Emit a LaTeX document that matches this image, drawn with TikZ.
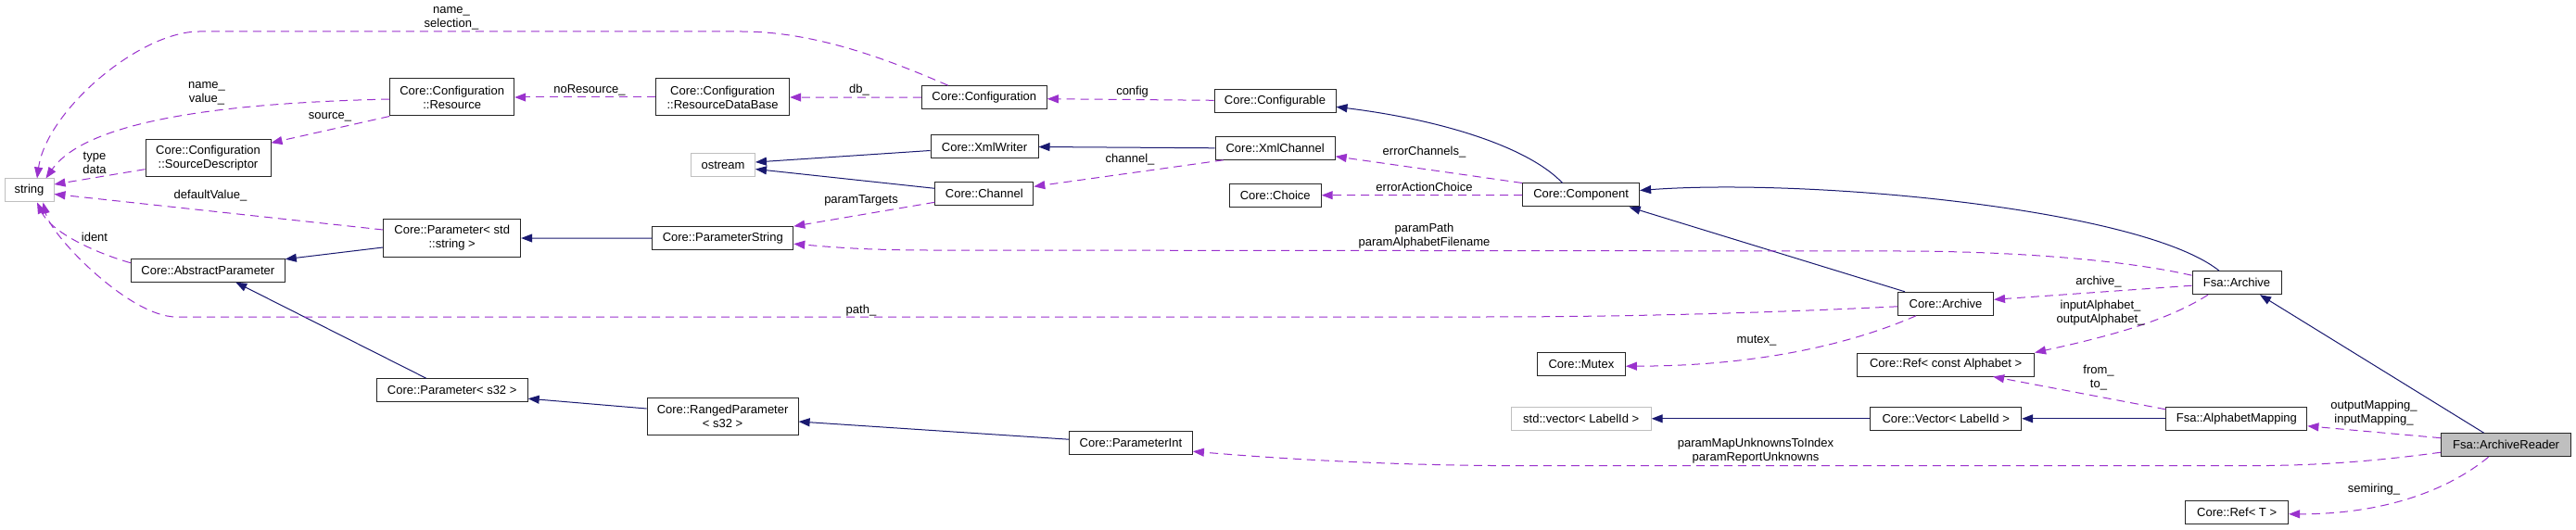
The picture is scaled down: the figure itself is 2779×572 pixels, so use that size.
\documentclass[tikz,border=0pt]{standalone}
\usepackage{fontspec}
\setmainfont{Liberation Sans}
\usetikzlibrary{arrows.meta}
\definecolor{navyedge}{HTML}{191970}
\definecolor{orchidedge}{HTML}{9A32CD}
\definecolor{boxgray}{HTML}{BFBFBF}

\begin{document}
\begin{tikzpicture}[x=1pt,y=-1pt,
  cls/.style={draw=black!85,line width=1pt,fill=white,inner sep=0pt,minimum height=25pt,
    align=center,font=\fontsize{13}{15}\selectfont},
  twoline/.style={minimum height=40pt},
  extcls/.style={cls,draw=boxgray},
  inherit/.style={navyedge,line width=1pt,-{Triangle[length=12pt,width=9pt]}},
  usage/.style={orchidedge,line width=1pt,dash pattern=on 9pt off 6pt,-{Triangle[length=12pt,width=9pt]}},
  lbl/.style={align=center,inner sep=0pt,font=\fontsize{13}{15}\selectfont}]
  \fill[white] (0,0) rectangle (2779,572);
  \useasboundingbox (0,0) rectangle (2779,572);

  % Clases, columna por columna
  \node[extcls,minimum width=53pt] (str) at (31.5,205.5) {string};
  \node[cls,twoline,minimum width=135pt] (srcdesc) at (224.5,170.7) {Core::Configuration\\::SourceDescriptor};
  \node[cls,minimum width=166pt] (absparam) at (224.3,291.7) {Core::AbstractParameter};
  \node[cls,twoline,minimum width=134pt] (resource) at (487.7,105) {Core::Configuration\\::Resource};
  \node[cls,twoline,minimum width=148pt] (paramstr) at (487.7,257) {Core::Parameter< std\\::string >};
  \node[cls,minimum width=163pt] (params32) at (487.7,421.2) {Core::Parameter< s32 >};
  \node[cls,twoline,minimum width=144pt] (resdb) at (779.6,105) {Core::Configuration\\::ResourceDataBase};
  \node[extcls,minimum width=69pt] (ostream) at (780,178.5) {ostream};
  \node[cls,minimum width=152pt] (pstring) at (779.8,257.2) {Core::ParameterString};
  \node[cls,twoline,minimum width=163pt] (ranged) at (779.6,449) {Core::RangedParameter\\< s32 >};
  \node[cls,minimum width=135pt] (config) at (1061.8,105.2) {Core::Configuration};
  \node[cls,minimum width=116pt] (xmlwriter) at (1062,158.5) {Core::XmlWriter};
  \node[cls,minimum width=106pt] (channel) at (1061.8,209.3) {Core::Channel};
  \node[cls,minimum width=133pt] (pint) at (1219.9,478.2) {Core::ParameterInt};
  \node[cls,minimum width=131pt] (cfgable) at (1375.5,109.3) {Core::Configurable};
  \node[cls,minimum width=129pt] (xmlchan) at (1375.7,159.8) {Core::XmlChannel};
  \node[cls,minimum width=99pt] (choice) at (1375.7,210.7) {Core::Choice};
  \node[cls,minimum width=126pt] (component) at (1705.6,210.5) {Core::Component};
  \node[cls,minimum width=95pt] (mutex) at (1705.9,393.2) {Core::Mutex};
  \node[extcls,minimum width=151pt] (stdvec) at (1705.7,451.8) {std::vector< LabelId >};
  \node[cls,minimum width=103pt] (carchive) at (2099,327.8) {Core::Archive};
  \node[cls,minimum width=191pt] (refalpha) at (2099.1,393.5) {Core::Ref< const Alphabet >};
  \node[cls,minimum width=163pt] (cvector) at (2099.2,451.8) {Core::Vector< LabelId >};
  \node[cls,minimum width=96pt] (farchive) at (2413,305.2) {Fsa::Archive};
  \node[cls,minimum width=152pt] (amapping) at (2412.9,451.8) {Fsa::AlphabetMapping};
  \node[cls,minimum width=111pt] (reft) at (2413.1,553.3) {Core::Ref< T >};
  \node[cls,fill=boxgray,minimum width=140pt] (reader) at (2703.6,480.2) {Fsa::ArchiveReader};

  % Herencia
  \draw[inherit] ([xshift=-20pt]component.north) .. controls (1650,160) and (1560,130) .. ([yshift=-6pt]cfgable.east);
  \draw[inherit] ([xshift=-19pt]farchive.north) .. controls (2310,225) and (1950,192) .. ([yshift=5pt]component.east);
  \draw[inherit] ([xshift=-44pt]carchive.north) -- ([xshift=52pt]component.south);
  \draw[inherit] ([yshift=-4pt]xmlwriter.west) -- ([yshift=3.5pt]ostream.east);
  \draw[inherit] ([yshift=6pt]channel.west) -- ([yshift=-4pt]ostream.east);
  \draw[inherit] (xmlchan.west) -- (xmlwriter.east);
  \draw[inherit] (pstring.west) -- (paramstr.east);
  \draw[inherit] ([yshift=-10pt]paramstr.west) -- ([yshift=-1pt]absparam.north east);
  \draw[inherit] ([xshift=-28pt]params32.north) -- ([xshift=30pt]absparam.south);
  \draw[inherit] ([yshift=8pt]ranged.west) -- ([yshift=-9pt]params32.east);
  \draw[inherit] ([yshift=4pt]pint.west) -- ([yshift=-6pt]ranged.east);
  \draw[inherit] (cvector.west) -- (stdvec.east);
  \draw[inherit] (amapping.west) -- (cvector.east);
  \draw[inherit] ([xshift=-24pt]reader.north) -- ([xshift=25pt]farchive.south);

  % Uso (miembros)
  \draw[usage] ([xshift=-39pt]config.north) .. controls (960,65) and (880,34) .. (800,34) -- (215,34)
    .. controls (150,34) and (50,120) .. ([xshift=8.5pt]str.north);
  \draw[usage] ([yshift=-2pt]resource.west) .. controls (300,110) and (100,120) .. ([xshift=18pt]str.north);
  \draw[usage] ([yshift=-12pt]srcdesc.west) -- ([yshift=6.5pt]str.east);
  \draw[usage] (resource.south west) -- ([yshift=-4pt]srcdesc.north east);
  \draw[usage] (resdb.west) -- (resource.east);
  \draw[usage] (config.west) -- (resdb.east);
  \draw[usage] ([yshift=1pt]cfgable.west) -- ([yshift=-1.5pt]config.east);
  \draw[usage] (component.north west) -- ([yshift=-9pt]xmlchan.east);
  \draw[usage] ([xshift=-56pt]xmlchan.south) -- ([yshift=8pt]channel.east);
  \draw[usage] (component.west) -- (choice.east);
  \draw[usage] ([yshift=4pt]channel.south west) -- (pstring.north east);
  \draw[usage] ([yshift=9pt]paramstr.west) -- ([yshift=-4pt]str.east);
  \draw[usage] ([yshift=8pt]absparam.west) .. controls (100,272) and (55,250) .. ([xshift=8.5pt]str.south);
  \draw[usage] ([yshift=-3pt]carchive.west) .. controls (1900,338) and (1750,342) .. (1600,342) -- (190,342)
    .. controls (140,342) and (55,255) .. ([xshift=15pt]str.south);
  \draw[usage] ([yshift=8pt]farchive.west) .. controls (2280,278) and (2150,271) .. (2050,271) -- (1000,270)
    .. controls (930,270) and (890,266) .. ([yshift=-6pt]pstring.east);
  \draw[usage] ([yshift=-3pt]farchive.west) -- ([yshift=4.5pt]carchive.east);
  \draw[usage] ([xshift=-32pt]carchive.south) .. controls (2000,370) and (1900,395) .. ([yshift=-2pt]mutex.east);
  \draw[usage] ([xshift=-31pt]farchive.south) .. controls (2340,345) and (2280,362) .. (refalpha.north east);
  \draw[usage] ([yshift=-3pt]amapping.north west) -- ([xshift=51pt]refalpha.south);
  \draw[usage] ([yshift=7.5pt]reader.west) -- ([yshift=-8pt]amapping.east);
  \draw[usage] ([yshift=-8pt]reader.west) .. controls (2560,498) and (2500,502.7) .. (2420,502.7) -- (1650,502.7)
    .. controls (1500,502.7) and (1380,495) .. ([yshift=-9pt]pint.east);
  \draw[usage] ([xshift=-19pt]reader.south) .. controls (2640,530) and (2570,555) .. ([yshift=-1.5pt]reft.east);

  % Etiquetas de los miembros
  \node[lbl] (lsel) at (487,19.5) {name\_\\selection\_};
  \node[lbl] (lval) at (223,100.5) {name\_\\value\_};
  \node[lbl] (ltype) at (102,175.5) {type\\data};
  \node[lbl] (lsrc) at (356,126.7) {source\_};
  \node[lbl] (lnores) at (636,97) {noResource\_};
  \node[lbl] (ldb) at (927,97) {db\_};
  \node[lbl] (lconfig) at (1221.6,98.7) {config};
  \node[lbl] (lerrch) at (1536.5,164) {errorChannels\_};
  \node[lbl] (lchan) at (1219,171.7) {channel\_};
  \node[lbl] (lerract) at (1536.5,202.3) {errorActionChoice};
  \node[lbl] (ltargets) at (929,216.7) {paramTargets};
  \node[lbl] (ldefault) at (227,210.7) {defaultValue\_};
  \node[lbl] (lident) at (102,255.7) {ident};
  \node[lbl] (lpath) at (929,335) {path\_};
  \node[lbl] (lparams) at (1536.5,255) {paramPath\\paramAlphabetFilename};
  \node[lbl] (larchive) at (2264,304) {archive\_};
  \node[lbl] (lmutex) at (1895,367.7) {mutex\_};
  \node[lbl] (lalpha) at (2266,337.5) {inputAlphabet\_\\outputAlphabet\_};
  \node[lbl] (lfromto) at (2264,408) {from\_\\to\_};
  \node[lbl] (lmapping) at (2561,446) {outputMapping\_\\inputMapping\_};
  \node[lbl] (lunknown) at (1894,487) {paramMapUnknownsToIndex\\paramReportUnknowns};
  \node[lbl] (lsemiring) at (2561,527.7) {semiring\_};
\end{tikzpicture}
\end{document}
